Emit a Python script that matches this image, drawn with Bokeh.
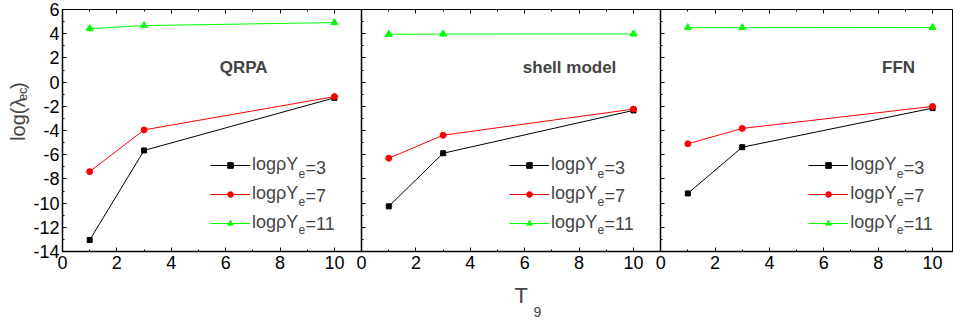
import math
from bokeh.plotting import figure
from bokeh.layouts import row, column
from bokeh.models import (Range1d, LinearAxis, FixedTicker, Label, Legend, LegendItem)
from bokeh.embed import file_html
from bokeh.resources import INLINE

# ---------------- data ----------------
T9 = [1, 3, 10]
panel_names = ["QRPA", "shell model", "FFN"]
density_labels = ["3", "7", "11"]

qrpa_3 = [-13.05, -5.65, -1.30]
qrpa_7 = [-7.40, -3.95, -1.20]
qrpa_11 = [4.42, 4.67, 4.92]

shell_3 = [-10.27, -5.88, -2.34]
shell_7 = [-6.29, -4.39, -2.23]
shell_11 = [3.95, 3.97, 3.98]

ffn_3 = [-9.20, -5.38, -2.15]
ffn_7 = [-5.10, -3.83, -2.01]
ffn_11 = [4.50, 4.50, 4.51]

x_tick_values = [0, 2, 4, 6, 8, 10]
y_tick_values = [-14, -12, -10, -8, -6, -4, -2, 0, 2, 4, 6]

panel_series = [
    [qrpa_3, qrpa_7, qrpa_11],
    [shell_3, shell_7, shell_11],
    [ffn_3, ffn_7, ffn_11],
]

# ---------------- layout constants ----------------
W, H = 953, 326
YT_W = 30                 # width of the y-title strip
MAIN_H = 280              # height of main figure
FRAME_L, FRAME_T = 62, 9  # frame position on the page
FRAME_W, FRAME_H = W - FRAME_L, 242
PANEL = 11.0
X_END = 32.77
Y0, Y1 = -14, 6
PX = FRAME_W / X_END
PY = FRAME_H / (Y1 - Y0)


def dx(px):
    return (px - FRAME_L) / PX


def dy(py):
    return Y1 - (py - FRAME_T) / PY


FONT = "Liberation Sans"
colors = ["#000000", "#ff0000", "#00ff00"]
markers = ["square", "circle", "triangle"]
msizes = [5, 6, 7]

p = figure(width=W - YT_W, height=MAIN_H, output_backend="svg", toolbar_location=None,
           x_range=Range1d(0, X_END), y_range=Range1d(Y0, Y1),
           min_border_left=FRAME_L - YT_W, min_border_right=0,
           min_border_top=FRAME_T, min_border_bottom=MAIN_H - FRAME_T - FRAME_H,
           x_axis_location="below", y_axis_location="left", margin=0)
p.xgrid.visible = False
p.ygrid.visible = False
p.outline_line_color = "black"
p.outline_line_width = 1
p.background_fill_color = "white"
p.border_fill_color = "white"

# x ticks for all three panels
xmaj, xmin, overrides = [], [], {}
for i in range(3):
    off = PANEL * i
    for t in x_tick_values:
        xmaj.append(t + off)
        overrides[t + off] = str(t)
    for t in range(0, 11):
        xmin.append(t + off)
yminor = list(range(Y0, Y1 + 1))


def style_axis(ax, labels=True):
    ax.major_tick_in = 4
    ax.major_tick_out = 0
    ax.minor_tick_in = 2
    ax.minor_tick_out = 0
    ax.axis_line_color = "black"
    ax.major_tick_line_color = "black"
    ax.minor_tick_line_color = "black"
    ax.axis_line_width = 1.5
    if labels:
        ax.major_label_text_font = FONT
        ax.major_label_text_font_size = "18px"
        ax.major_label_text_color = "black"
    else:
        ax.major_label_text_color = None
        ax.major_label_standoff = 0


xa = p.xaxis[0]
xa.ticker = FixedTicker(ticks=xmaj, minor_ticks=xmin)
xa.major_label_overrides = overrides
style_axis(xa)
xa.major_label_standoff = 4

ya = p.yaxis[0]
ya.ticker = FixedTicker(ticks=y_tick_values, minor_ticks=yminor)
ya.major_label_overrides = {v: str(v) for v in y_tick_values}
style_axis(ya)
ya.major_label_standoff = 3

top = LinearAxis(fixed_location=Y1, ticker=FixedTicker(ticks=xmaj, minor_ticks=xmin))
style_axis(top, labels=False)
top.axis_line_width = 1
p.add_layout(top, "above")

for i in (1, 2):
    sep = LinearAxis(fixed_location=PANEL * i,
                     ticker=FixedTicker(ticks=y_tick_values, minor_ticks=yminor))
    style_axis(sep, labels=False)
    p.add_layout(sep, "left")

title_pos = [(6.66, 1.2), (7.65, 1.2), (8.75, 1.2)]

LEG_X, LEG_Y = 148, 18          # legend offset inside each panel (px)
GLYPH_W, STANDOFF = 40, 2
ROW0_Y, ROW_STEP = 167, 28      # page y of first legend row centre, row spacing
BASE_W = 46.0                   # rendered width of "logρY" at 18px

for i, series in enumerate(panel_series):
    off = PANEL * i
    xs = [t + off for t in T9]
    items = []
    for j, ys in enumerate(series):
        lr = p.line(xs, ys, line_color=colors[j], line_width=1)
        sr = p.scatter(xs, ys, marker=markers[j], size=msizes[j],
                       fill_color=colors[j], line_color=colors[j])
        items.append(LegendItem(label="log\u03c1Y", renderers=[lr, sr]))
    leg = Legend(items=items, location=(off * PX + LEG_X, LEG_Y),
                 glyph_width=GLYPH_W, glyph_height=14, label_height=20,
                 label_standoff=STANDOFF, spacing=8, padding=0, margin=0,
                 border_line_color=None, background_fill_alpha=0,
                 label_text_font=FONT, label_text_font_size="18px")
    p.add_layout(leg, "center")
    # subscript "e" and "=n" pieces of each legend label
    text_x0 = FRAME_L + off * PX + LEG_X + GLYPH_W + STANDOFF
    for j in range(3):
        ry = ROW0_Y + ROW_STEP * j
        p.add_layout(Label(x=dx(text_x0 + BASE_W), y=dy(ry + 6), text="e",
                           text_align="left", text_baseline="middle",
                           text_font=FONT, text_font_size="12px"))
        p.add_layout(Label(x=dx(text_x0 + BASE_W + 7), y=dy(ry), text="=" + density_labels[j],
                           text_align="left", text_baseline="middle",
                           text_font=FONT, text_font_size="18px"))
    tx, ty = title_pos[i]
    p.add_layout(Label(x=tx + off, y=ty, text=panel_names[i], text_align="center",
                       text_baseline="middle", text_font=FONT, text_font_style="bold",
                       text_font_size="17px"))


def strip(w, h):
    f = figure(width=w, height=h, output_backend="svg", toolbar_location=None,
               x_range=Range1d(0, w), y_range=Range1d(0, h),
               x_axis_location=None, y_axis_location=None, min_border=0, margin=0)
    f.xgrid.visible = False
    f.ygrid.visible = False
    f.outline_line_color = None
    f.background_fill_color = "white"
    f.border_fill_color = "white"
    return f


# y axis title  log(λ_ec)  (coordinates: px in the strip, y measured upward)
yt = strip(YT_W, MAIN_H)
yt.add_layout(Label(x=17, y=MAIN_H - 152, text="log(\u03bb", angle=math.pi / 2,
                    text_align="left", text_baseline="middle",
                    text_font=FONT, text_font_size="20px"))
yt.add_layout(Label(x=22, y=MAIN_H - 106, text="ec", angle=math.pi / 2,
                    text_align="left", text_baseline="middle",
                    text_font=FONT, text_font_size="13px"))
yt.add_layout(Label(x=17, y=MAIN_H - 92, text=")", angle=math.pi / 2,
                    text_align="left", text_baseline="middle",
                    text_font=FONT, text_font_size="20px"))

# x axis title T_9
XT_H = H - MAIN_H
xt = strip(W, XT_H)
xt.add_layout(Label(x=514, y=H - 295, text="T", text_align="left",
                    text_baseline="middle", text_font=FONT, text_font_size="22px"))
xt.add_layout(Label(x=533, y=H - 311, text="9", text_align="left",
                    text_baseline="middle", text_font=FONT, text_font_size="14px"))

layout = column(row(yt, p, spacing=0, margin=0), xt, spacing=0, margin=0)
open("out.html", "w").write(file_html(layout, INLINE))
